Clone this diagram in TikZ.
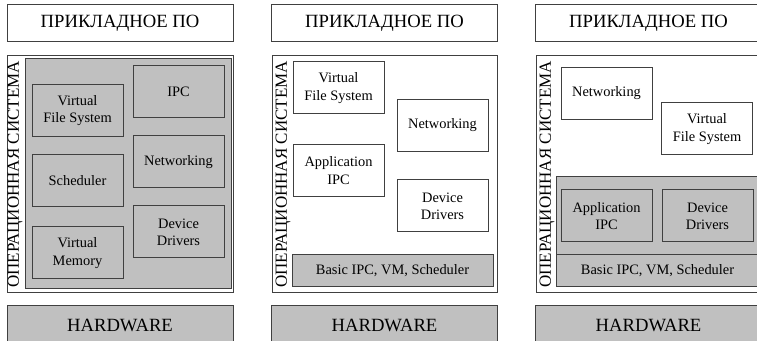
\documentclass[tikz,border=0pt]{standalone}
\usepackage{fontspec}
\setmainfont{Liberation Serif}
\definecolor{linec}{RGB}{64,64,64}
\definecolor{grayfill}{RGB}{192,192,192}
\begin{document}
\begin{tikzpicture}[x=0.75pt,y=0.75pt,yscale=-1,xscale=1,
  frame/.style={draw=linec,line width=0.75pt},
  mod/.style={frame,fill=white,minimum width=68.25pt,minimum height=39pt,inner sep=0.75pt,align=center,font=\fontsize{10.8}{13}\selectfont},
  modgray/.style={mod,fill=grayfill},
  layer/.style={frame,minimum width=169.5pt,minimum height=27.75pt,inner sep=0.75pt,font=\fontsize{14}{16}\selectfont},
  oslabel/.style={rotate=90,inner sep=0.75pt,font=\fontsize{12.75}{14}\selectfont}]
\useasboundingbox (0,0) rectangle (757,341);

%%%%%%%%%%%%%%%%%% first column
% Text Node
\node [layer,fill=white] (appA) at (120,23.5) {ПРИКЛАДНОЕ ПО};
%Shape: Rectangle
\draw [frame,fill=white] (7,56) rectangle (233,293);
%Shape: Rectangle
\draw [frame,fill=grayfill] (25,59) rectangle (231,289);
% Text Node
\node [oslabel] (osA) at (15,174.5) {ОПЕРАЦИОННАЯ СИСТЕМА};
\node [modgray] (vfsA) at (77.5,110.5) {Virtual\\File System};
\node [modgray] (schedA) at (77.5,181) {Scheduler};
\node [modgray] (vmA) at (77.5,253) {Virtual\\Memory};
\node [modgray] (ipcA) at (178.5,91.5) {IPC};
\node [modgray] (netA) at (178.5,162) {Networking};
\node [modgray] (devA) at (178.5,232) {Device\\Drivers};
% Text Node
\node [layer,fill=grayfill,minimum height=29.25pt] (hwA) at (120,325.5) {HARDWARE};

%%%%%%%%%%%%%%%%%% second column
\node [layer,fill=white] (appB) at (384.5,23.5) {ПРИКЛАДНОЕ ПО};
%Shape: Rectangle
\draw [frame,fill=white] (272,56) rectangle (497,293);
\node [oslabel] (osB) at (283,174.5) {ОПЕРАЦИОННАЯ СИСТЕМА};
\node [mod] (vfsB) at (338.5,88) {Virtual\\File System};
\node [mod] (netB) at (442.5,125.5) {Networking};
\node [mod] (ipcB) at (338.5,170.5) {Application\\IPC};
\node [mod] (devB) at (442.5,206) {Device\\Drivers};
\node [modgray,minimum width=150.75pt,minimum height=24pt] (baseB) at (392.5,271) {Basic IPC, VM, Scheduler};
\node [layer,fill=grayfill,minimum height=29.25pt] (hwB) at (384.5,325.5) {HARDWARE};

%%%%%%%%%%%%%%%%%% third column
\node [layer,fill=white] (appC) at (648.5,23.5) {ПРИКЛАДНОЕ ПО};
%Shape: Rectangle
\draw [frame,fill=white] (536,56) rectangle (761,293);
%Shape: Rectangle
\draw [frame,fill=grayfill] (556,177) rectangle (759,287);
\node [oslabel] (osC) at (547,174.5) {ОПЕРАЦИОННАЯ СИСТЕМА};
\node [mod] (netC) at (606.5,93.5) {Networking};
\node [mod] (vfsC) at (707,129) {Virtual\\File System};
\node [modgray] (ipcC) at (606.5,216) {Application\\IPC};
\node [modgray] (devC) at (707.5,216) {Device\\Drivers};
\node [modgray,minimum width=152.25pt,minimum height=24pt] (baseC) at (657.5,271) {Basic IPC, VM, Scheduler};
\node [layer,fill=grayfill,minimum height=29.25pt] (hwC) at (648.5,325.5) {HARDWARE};

\end{tikzpicture}
\end{document}
